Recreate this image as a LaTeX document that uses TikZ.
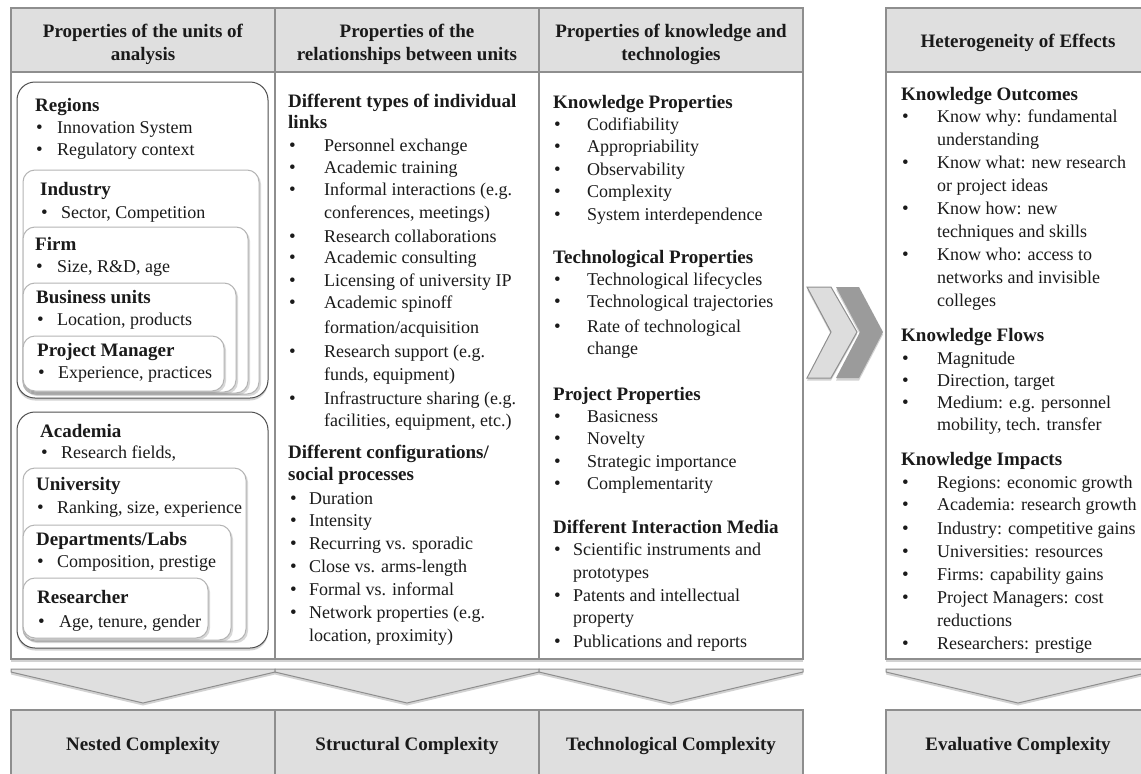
\documentclass[tikz,border=0pt]{standalone}
\usepackage{fontspec}
\setmainfont{Liberation Serif}
\usetikzlibrary{shadows}
\definecolor{hdrgray}{HTML}{DFDFDF}
\definecolor{bordergray}{HTML}{8E8E8E}
\definecolor{darkline}{HTML}{505050}
\definecolor{innerline}{HTML}{B4B4B4}
\definecolor{chevlight}{HTML}{DDDDDD}
\definecolor{chevdark}{HTML}{9B9B9B}
\definecolor{inkc}{HTML}{1A1A1A}
\newcommand\myhd[4]{\node[hd] (#1) at (#2,#3) {#4};}
\newcommand\mytl[4]{\node[txt] (#1) at (#2,#3) {#4};}
\newcommand\mybl[5]{\node[bul] (#1b) at (#2,#4) {\textbullet}; \node[txt] (#1) at (#3,#4) {#5};}
\begin{document}
\begin{tikzpicture}[x=1pt,y=-1pt,
  cell/.style={draw=bordergray, line width=1.3pt, fill=white},
  hdrcell/.style={draw=bordergray, line width=1.3pt, fill=hdrgray},
  shad/.style={drop shadow={opacity=0.35, shadow xshift=0pt, shadow yshift=-2.5pt}},
  ishad/.style={drop shadow={opacity=0.3, shadow xshift=2pt, shadow yshift=-2pt}},
  outerbox/.style={draw=darkline, line width=1pt, fill=white, rounded corners=18pt},
  innerbox/.style={draw=innerline, line width=1pt, fill=white, rounded corners=12pt},
  chevd/.style={draw=bordergray, line width=1pt, fill=hdrgray},
  txt/.style={anchor=base west, inner sep=0pt, text=inkc, font=\fontsize{18}{21}\selectfont},
  hd/.style={anchor=base west, inner sep=0pt, text=inkc, font=\fontsize{19}{22}\selectfont\bfseries},
  ctitle/.style={anchor=base, inner sep=0pt, text=inkc, font=\fontsize{19}{22}\selectfont\bfseries},
  bul/.style={anchor=base west, inner sep=0pt, text=inkc, font=\fontsize{19}{22}\selectfont},
]
\useasboundingbox (0,0) rectangle (1141,774);
\fill[white] (0,0) rectangle (1141,774);
% columns
\foreach \xa/\xb in {11/275,275/539,539/803,886/1150}{
  \path[hdrcell,shad] (\xa,8) rectangle (\xb,72);
  \path[cell,shad] (\xa,72) rectangle (\xb,659);
}
% headers
\node[ctitle] (h1a) at (143,37) {Properties of the units of};
\node[ctitle] (h1b) at (143,60) {analysis};
\node[ctitle] (h2a) at (407,37) {Properties of the};
\node[ctitle] (h2b) at (407,60) {relationships between units};
\node[ctitle] (h3a) at (671,37) {Properties of knowledge and};
\node[ctitle] (h3b) at (671,60) {technologies};
\node[ctitle] (h4) at (1018,47) {Heterogeneity of Effects};
% nested boxes
\path[outerbox,shad] (17,82) rectangle (268,398);
\path[innerbox,ishad] (23,170) rectangle (259,394);
\path[innerbox,ishad] (23,227) rectangle (248,393);
\path[innerbox,ishad] (23,283) rectangle (236,392);
\path[innerbox,ishad] (23,336) rectangle (224,391);
\path[outerbox,shad] (17,412) rectangle (268,648);
\path[innerbox,ishad] (23,468) rectangle (246,641);
\path[innerbox,ishad] (23,525) rectangle (231,640);
\path[innerbox,ishad] (23,578) rectangle (208,638);
% column 1
\myhd{reg}{35}{111}{Regions}
\mybl{regA}{36}{57}{133}{Innovation System}
\mybl{regB}{36}{57}{155}{Regulatory context}
\myhd{ind}{40}{195}{Industry}
\mybl{indA}{41}{61}{218}{Sector, Competition}
\myhd{firm}{35}{250}{Firm}
\mybl{firmA}{36}{57}{272}{Size, R\&D, age}
\myhd{bu}{36}{303}{Business units}
\mybl{buA}{37}{57}{325}{Location, products}
\myhd{pm}{37}{356}{Project Manager}
\mybl{pmA}{38}{58}{378}{Experience, practices}
\myhd{aca}{40}{437}{Academia}
\mybl{acaA}{41}{61}{458}{Research fields,}
\myhd{uni}{36}{490}{University}
\mybl{uniA}{37}{57}{513}{Ranking, size, experience}
\myhd{dep}{36}{545}{Departments/Labs}
\mybl{depA}{37}{57}{567}{Composition, prestige}
\myhd{res}{37}{603}{Researcher}
\mybl{resA}{38}{59}{627}{Age, tenure, gender}
% column 2
\myhd{ltA}{288}{107}{Different types of individual}
\myhd{ltB}{288}{128}{links}
\mybl{lA}{289}{324}{151}{Personnel exchange}
\mybl{lB}{289}{324}{173}{Academic training}
\mybl{lC}{289}{324}{195}{Informal interactions (e.g.}
\mytl{lCc}{324}{218}{conferences, meetings)}
\mybl{lD}{289}{324}{242}{Research collaborations}
\mybl{lE}{289}{324}{263}{Academic consulting}
\mybl{lF}{289}{324}{286}{Licensing of university IP}
\mybl{lG}{289}{324}{308}{Academic spinoff}
\mytl{lGc}{324}{333}{formation/acquisition}
\mybl{lH}{289}{324}{357}{Research support (e.g.}
\mytl{lHc}{324}{380}{funds, equipment)}
\mybl{lI}{289}{324}{404}{Infrastructure sharing (e.g.}
\mytl{lIc}{324}{426}{facilities, equipment, etc.)}
\myhd{ctA}{288}{458}{Different configurations/}
\myhd{ctB}{288}{480}{social processes}
\mybl{cA}{290}{309}{504}{Duration}
\mybl{cB}{290}{309}{526}{Intensity}
\mybl{cC}{290}{309}{549}{Recurring vs. sporadic}
\mybl{cD}{290}{309}{572}{Close vs. arms-length}
\mybl{cE}{290}{309}{595}{Formal vs. informal}
\mybl{cF}{290}{309}{618}{Network properties (e.g.}
\mytl{cFc}{309}{641}{location, proximity)}
% column 3
\myhd{kp}{553}{108}{Knowledge Properties}
\mybl{kpA}{554}{587}{130}{Codifiability}
\mybl{kpB}{554}{587}{152}{Appropriability}
\mybl{kpC}{554}{587}{175}{Observability}
\mybl{kpD}{554}{587}{197}{Complexity}
\mybl{kpE}{554}{587}{220}{System interdependence}
\myhd{tp}{553}{263}{Technological Properties}
\mybl{tpA}{554}{587}{285}{Technological lifecycles}
\mybl{tpB}{554}{587}{307}{Technological trajectories}
\mybl{tpC}{554}{587}{332}{Rate of technological}
\mytl{tpCc}{587}{354}{change}
\myhd{pp}{553}{400}{Project Properties}
\mybl{ppA}{554}{587}{422}{Basicness}
\mybl{ppB}{554}{587}{444}{Novelty}
\mybl{ppC}{554}{587}{467}{Strategic importance}
\mybl{ppD}{554}{587}{489}{Complementarity}
\myhd{im}{553}{533}{Different Interaction Media}
\mybl{imA}{554}{573}{555}{Scientific instruments and}
\mytl{imAc}{573}{578}{prototypes}
\mybl{imB}{554}{573}{601}{Patents and intellectual}
\mytl{imBc}{573}{623}{property}
\mybl{imC}{554}{573}{647}{Publications and reports}
% right column
\myhd{ko}{901}{100}{Knowledge Outcomes}
\mybl{koA}{902}{937}{122}{Know why: fundamental}
\mytl{koAc}{937}{145}{understanding}
\mybl{koB}{902}{937}{168}{Know what: new research}
\mytl{koBc}{937}{191}{or project ideas}
\mybl{koC}{902}{937}{214}{Know how: new}
\mytl{koCc}{937}{237}{techniques and skills}
\mybl{koD}{902}{937}{260}{Know who: access to}
\mytl{koDc}{937}{283}{networks and invisible}
\mytl{koDd}{937}{306}{colleges}
\myhd{kf}{901}{341}{Knowledge Flows}
\mybl{kfA}{902}{937}{364}{Magnitude}
\mybl{kfB}{902}{937}{386}{Direction, target}
\mybl{kfC}{902}{937}{408}{Medium: e.g. personnel}
\mytl{kfCc}{937}{430}{mobility, tech. transfer}
\myhd{ki}{901}{465}{Knowledge Impacts}
\mybl{kiA}{902}{937}{488}{Regions: economic growth}
\mybl{kiB}{902}{937}{510}{Academia: research growth}
\mybl{kiC}{902}{937}{534}{Industry: competitive gains}
\mybl{kiD}{902}{937}{557}{Universities: resources}
\mybl{kiE}{902}{937}{580}{Firms: capability gains}
\mybl{kiF}{902}{937}{603}{Project Managers: cost}
\mytl{kiFc}{937}{626}{reductions}
\mybl{kiG}{902}{937}{649}{Researchers: prestige}
% right chevrons
\path[draw=bordergray, line width=1pt, fill=chevlight, shad] (807,287) -- (831,287) -- (857,332) -- (831,378) -- (807,378) -- (831,332) -- cycle;
\path[fill=chevdark, shad] (836,287) -- (859,287) -- (883,332) -- (859,378) -- (836,378) -- (860,332) -- cycle;
% down chevrons
\foreach \xa/\xb in {11/275,275/539,539/803,886/1150}{
  \path[chevd,shad] (\xa,669) -- (\xb,669) -- (\xb,672) -- ({(\xa+\xb)/2},703) -- (\xa,672) -- cycle;
}
% bottom boxes
\foreach \xa/\xb in {11/275,275/539,539/803,886/1150}{
  \path[hdrcell,shad] (\xa,710) rectangle (\xb,785);
}
\node[ctitle] (b1) at (143,750) {Nested Complexity};
\node[ctitle] (b2) at (407,750) {Structural Complexity};
\node[ctitle] (b3) at (671,750) {Technological Complexity};
\node[ctitle] (b4) at (1018,750) {Evaluative Complexity};
\end{tikzpicture}
\end{document}
